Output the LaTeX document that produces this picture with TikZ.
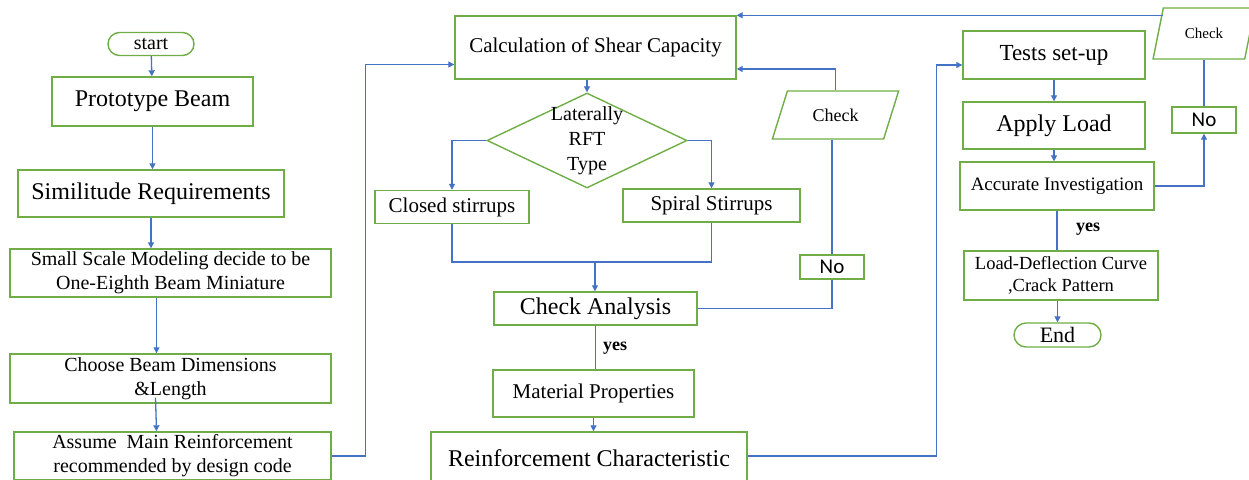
\documentclass[tikz,border=0pt]{standalone}
\usepackage{fontspec}
\setmainfont{Liberation Serif}
\newfontfamily\nofont{Carlito}
\usetikzlibrary{arrows.meta, shapes.geometric, shapes.misc, positioning}
\definecolor{boxgreen}{RGB}{112,173,71}
\definecolor{lineblue}{RGB}{68,114,196}
\newcommand{\sz}[2]{\fontsize{#1}{#2}\selectfont}

\begin{document}
\begin{tikzpicture}[x=1pt,y=-1pt,
    box/.style={draw=boxgreen,line width=1.4pt,inner sep=1pt,align=center},
    term/.style={box,rounded rectangle},
    decide/.style={box,diamond,inner sep=0pt},
    io/.style={box,trapezium,trapezium stretches=true},
    nobox/.style={box,font=\nofont\sz{21}{23}},
    link/.style={draw=lineblue,line width=1.3pt},
    >={Triangle[length=6pt,width=6pt]}]
    \useasboundingbox (0,0) rectangle (1249,479);
    % left column
    \node[term,minimum width=88,minimum height=23,font=\sz{20}{22}] (start) at (151,44) {start};
    \node[box,minimum width=201,minimum height=49,font=\sz{24}{26}] (proto) at (152.5,101.5) {Prototype Beam};
    \node[box,minimum width=266,minimum height=47,font=\sz{24}{26}] (simil) at (151,193.5) {Similitude Requirements};
    \node[box,minimum width=321,minimum height=48,font=\sz{20}{24}] (small) at (170.5,273) {Small Scale Modeling decide to be\\One-Eighth Beam Miniature};
    \node[box,minimum width=321,minimum height=49,font=\sz{20}{24}] (choose) at (170.5,378.5) {Choose Beam Dimensions\\\&Length};
    \node[box,minimum width=317,minimum height=48,font=\sz{20}{24}] (assume) at (172.5,456) {Assume\ \ Main Reinforcement\\recommended by design code};
    % middle column
    \node[box,minimum width=281,minimum height=63,font=\sz{21}{23}] (calc) at (595.5,47.5) {Calculation of Shear Capacity};
    \node[decide,minimum width=200,minimum height=95,
        label={[align=center,font=\sz{20}{25}]center:Laterally\\RFT\\Type}] (rft) at (587,140.5) {};
    \node[box,minimum width=154,minimum height=33,font=\sz{21}{23}] (closed) at (452,207) {Closed stirrups};
    \node[box,minimum width=177,minimum height=33,font=\sz{21}{23}] (spiral) at (711.5,205.5) {Spiral Stirrups};
    \node[box,minimum width=203,minimum height=33,font=\sz{24}{26}] (checkA) at (595.5,308.5) {Check Analysis};
    \node[box,minimum width=201,minimum height=47,font=\sz{21}{23}] (mat) at (593.5,393.5) {Material Properties};
    \node[box,minimum width=316,minimum height=52,font=\sz{24}{26}] (reinf) at (589,458) {Reinforcement Characteristic};
    \node[io,trapezium left angle=63,trapezium right angle=117,minimum width=127,minimum height=48,
        font=\sz{18}{20}] (checkM) at (835.5,115) {Check};
    \node[nobox,minimum width=64,minimum height=24] (noM) at (832,267) {No};
    \node[font=\bfseries\sz{18}{20}] (yesM) at (615,348) {yes};
    % right column
    \node[box,minimum width=182,minimum height=48,font=\sz{23}{25}] (tests) at (1054,55) {Tests set-up};
    \node[box,minimum width=182,minimum height=47,font=\sz{24}{26}] (apply) at (1054,125.5) {Apply Load};
    \node[box,minimum width=194,minimum height=48,font=\sz{19}{21}] (acc) at (1057,186) {Accurate Investigation};
    \node[nobox,minimum width=64,minimum height=26] (noR) at (1204,120) {No};
    \node[io,trapezium left angle=68,trapezium right angle=112,minimum width=102,minimum height=51,
        font=\sz{15}{17}] (checkT) at (1204,33.5) {Check};
    \node[font=\bfseries\sz{18}{20}] (yesR) at (1088,229) {yes};
    \node[box,minimum width=194,minimum height=49,font=\sz{18.5}{22}] (ld) at (1061,275.5) {Load-Deflection Curve\\,Crack Pattern};
    \node[term,minimum width=89,minimum height=24,font=\sz{22}{24}] (endN) at (1057.5,335) {End};
    \coordinate (merge) at (595,262); %join of the two stirrups

    % connectors
    \draw[link,->] (start) -- (proto);
    \draw[link,->] (proto) -- (simil.north -| proto);
    \draw[link,->] (simil.south) -- (simil.south |- small.north);
    \draw[link,->] ([xshift=-14pt]small.south) -- ([xshift=-14pt]choose.north);
    \draw[link,->] ([xshift=-15pt,yshift=6pt]choose.south) -- ([xshift=-16pt]assume.north);
    \draw[link,->] (assume.east) -- ++(34,0) |- ([yshift=-17pt]calc.west);
    \draw[link,->] (calc.south -| rft.north) -- (rft.north);
    \draw[link,->] (rft.west) -| (closed.north);
    \draw[link,->] (rft.east) -| (spiral.north);
    \draw[link] (closed.south) |- (merge) -| (spiral.south);
    \draw[link,->] (merge) -- (checkA.north -| merge);
    \draw[link] (checkA.east) -| (noM.south);
    \draw[link] (noM.north) -- (noM.north |- checkM.south);
    \draw[link,->] (checkM.north) |- ([yshift=-21.5pt]calc.east);
    \draw[link] (checkA.south) -- (checkA.south |- mat.north);
    \draw[link,->] (mat.south) -- (mat.south |- reinf.north);
    \draw[link,->] ([yshift=2pt]reinf.east) -- ++(189,0) |- ([yshift=-10pt]tests.west);
    \draw[link,->] (tests.south) -- (apply.north -| tests.south);
    \draw[link,->] (apply.south) -- (apply.south |- acc.north);
    \draw[link,->] (acc.east) -| (noR.south);
    \draw[link] (noR.north) -- (noR.north |- checkT.south);
    \draw[link,->] ([yshift=-8pt]checkT.top left corner) -- (calc.north east);
    \draw[link] (acc.south) -- (acc.south |- ld.north);
    \draw[link,->] (endN.north |- ld.south) -- (endN.north);
\end{tikzpicture}
\end{document}
